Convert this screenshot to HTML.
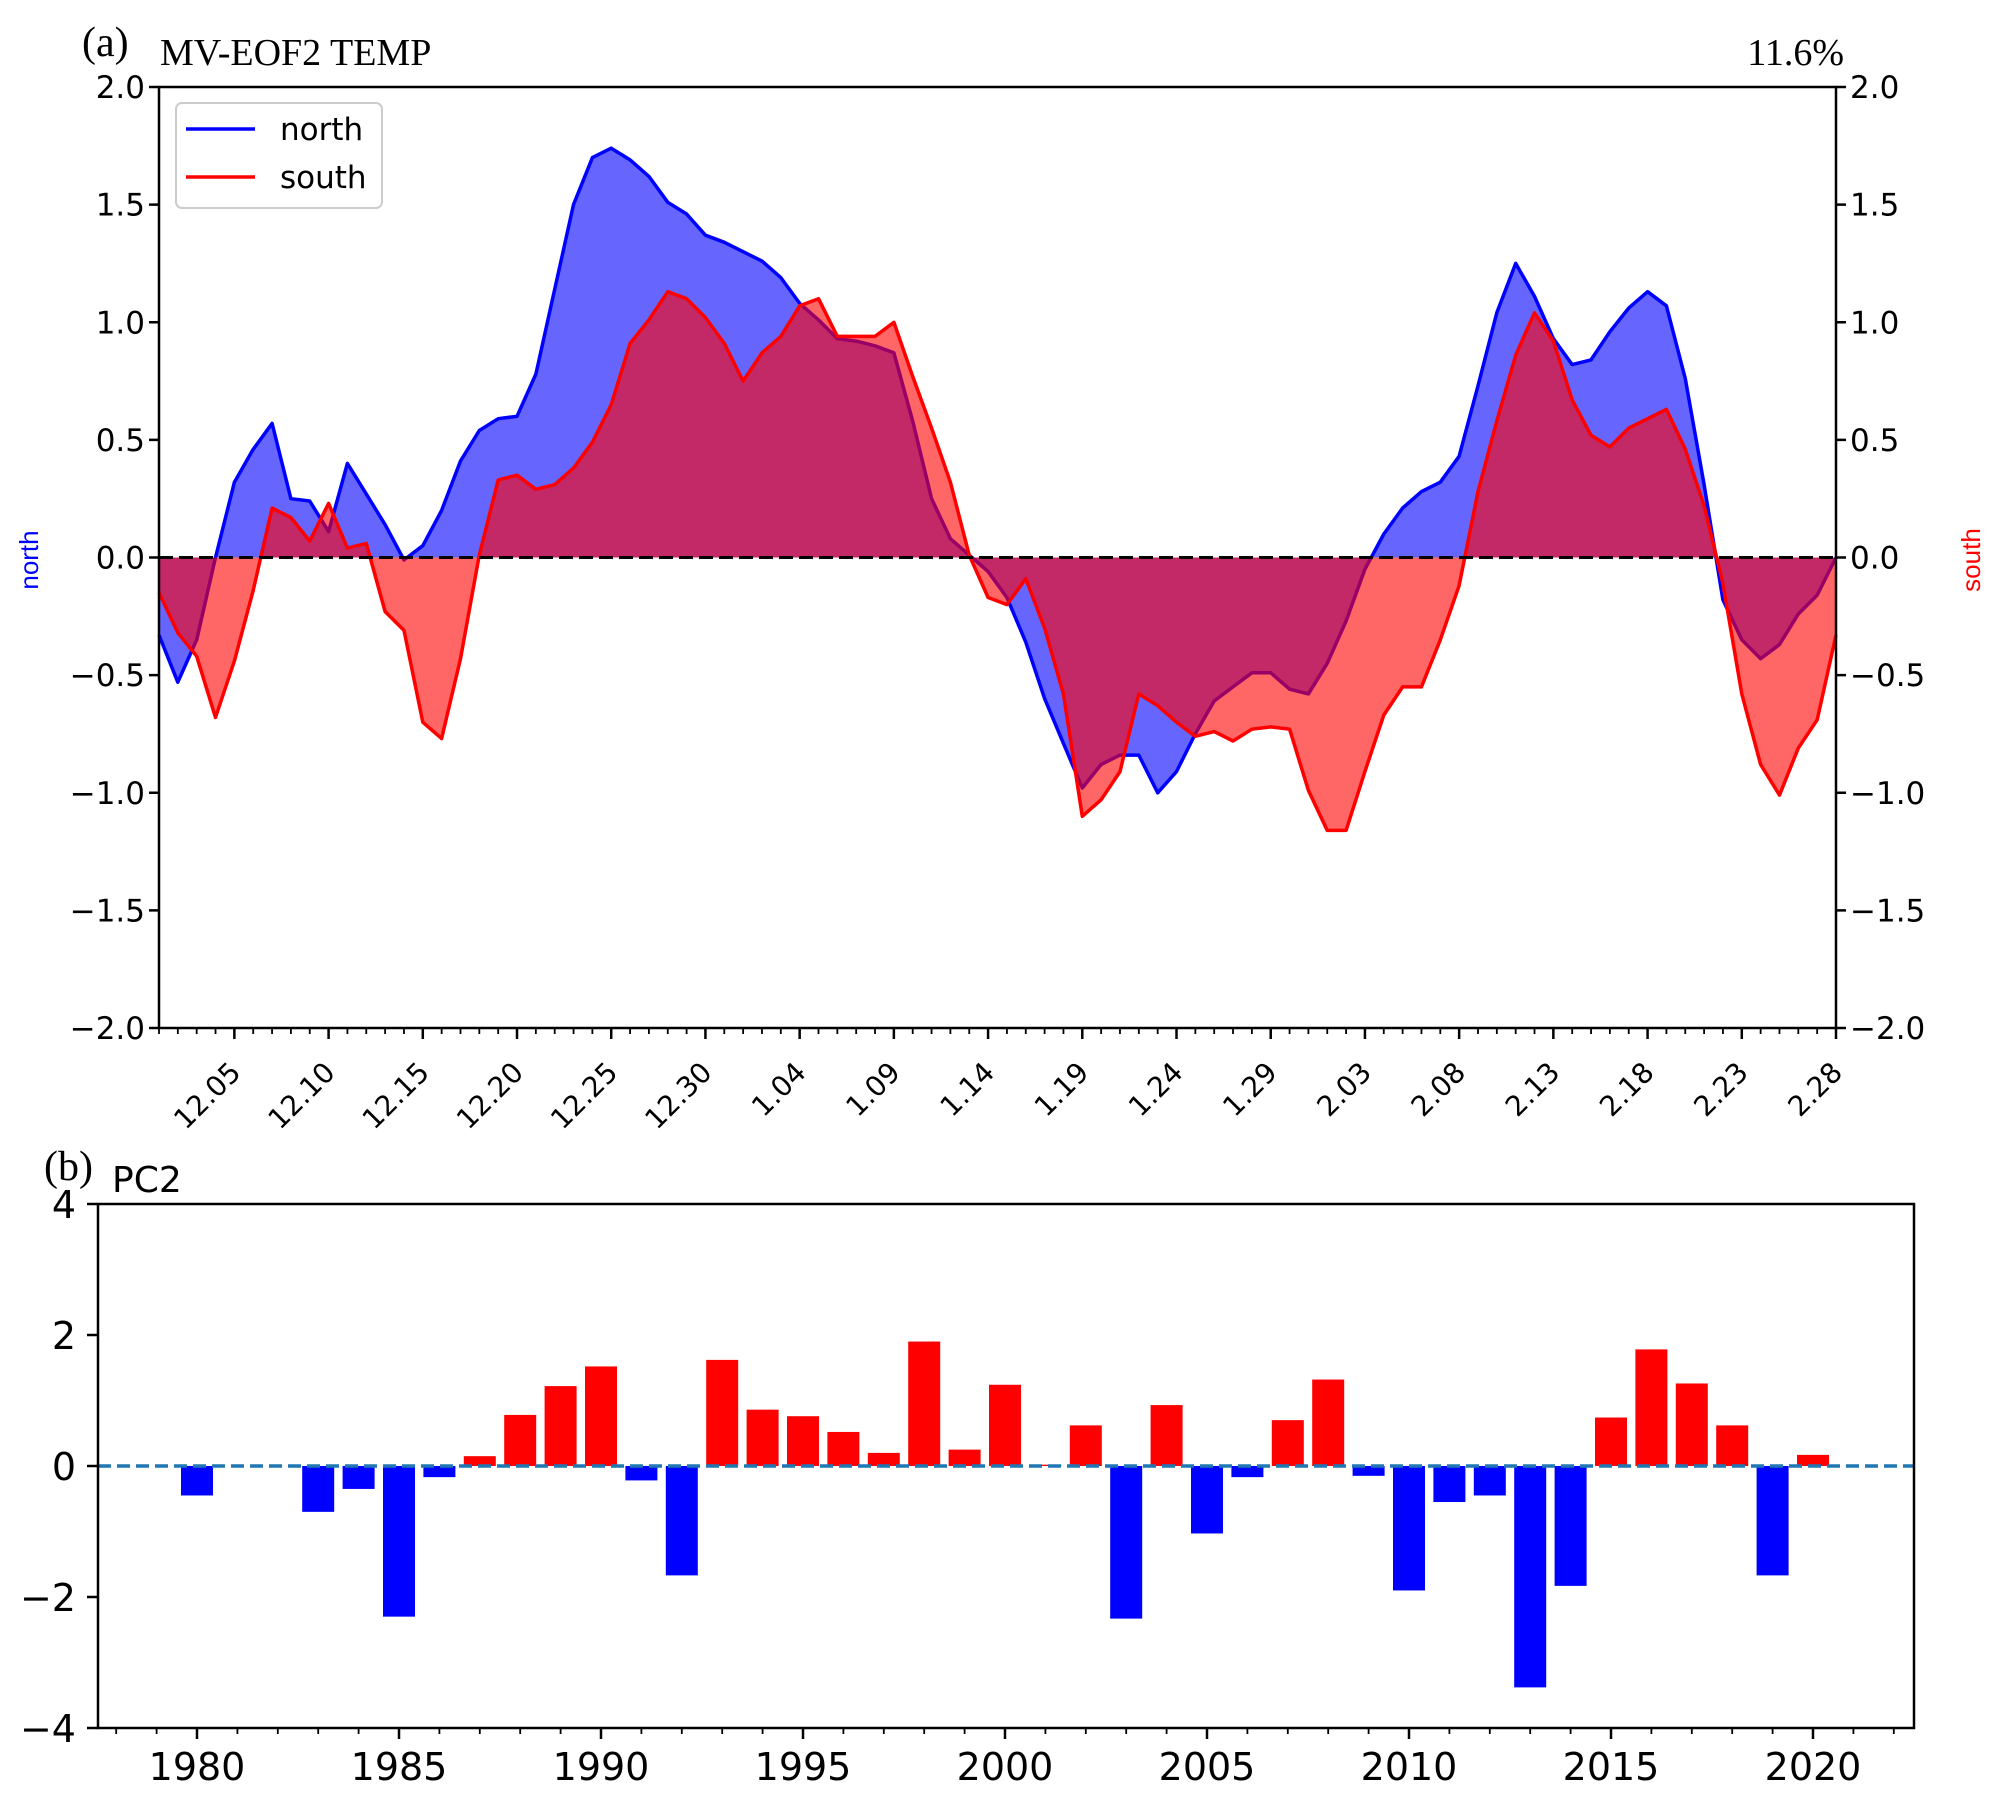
<!DOCTYPE html>
<html><head><meta charset="utf-8"><style>
body{margin:0;background:#fff}
svg{display:block;font-family:"DejaVu Sans","Liberation Sans",sans-serif}
</style></head><body>
<svg id="c" width="2000" height="1812" viewBox="0 0 2000 1812"></svg>
<script>
const north=[-0.33,-0.53,-0.35,0.0,0.32,0.46,0.57,0.25,0.24,0.11,0.40,0.27,0.14,-0.01,0.05,0.20,0.41,0.54,0.59,0.60,0.78,1.14,1.50,1.70,1.74,1.69,1.62,1.51,1.46,1.37,1.34,1.30,1.26,1.19,1.08,1.01,0.93,0.92,0.90,0.87,0.58,0.25,0.08,0.01,-0.06,-0.17,-0.36,-0.6,-0.79,-0.98,-0.88,-0.84,-0.84,-1.0,-0.91,-0.75,-0.61,-0.55,-0.49,-0.49,-0.56,-0.58,-0.45,-0.27,-0.05,0.10,0.21,0.28,0.32,0.43,0.73,1.04,1.25,1.11,0.93,0.82,0.84,0.96,1.06,1.13,1.07,0.76,0.31,-0.18,-0.35,-0.43,-0.37,-0.24,-0.16,0.0];
const south=[-0.15,-0.32,-0.42,-0.68,-0.44,-0.14,0.21,0.17,0.07,0.23,0.04,0.06,-0.23,-0.31,-0.70,-0.77,-0.43,0.01,0.33,0.35,0.29,0.31,0.38,0.49,0.65,0.91,1.01,1.13,1.10,1.02,0.91,0.75,0.87,0.94,1.07,1.10,0.94,0.94,0.94,1.00,0.77,0.55,0.32,0.01,-0.17,-0.2,-0.09,-0.3,-0.58,-1.1,-1.03,-0.91,-0.58,-0.63,-0.7,-0.76,-0.74,-0.78,-0.73,-0.72,-0.73,-0.99,-1.16,-1.16,-0.91,-0.67,-0.55,-0.55,-0.35,-0.12,0.28,0.58,0.86,1.04,0.92,0.67,0.52,0.47,0.55,0.59,0.63,0.46,0.22,-0.11,-0.58,-0.88,-1.01,-0.81,-0.69,-0.33];
const dayTicks=["12.05","12.10","12.15","12.20","12.25","12.30","1.04","1.09","1.14","1.19","1.24","1.29","2.03","2.08","2.13","2.18","2.23","2.28"];
const topYTicks=[-2.0,-1.5,-1.0,-0.5,0.0,0.5,1.0,1.5,2.0];
const years=[1979,1980,1981,1982,1983,1984,1985,1986,1987,1988,1989,1990,1991,1992,1993,1994,1995,1996,1997,1998,1999,2000,2001,2002,2003,2004,2005,2006,2007,2008,2009,2010,2011,2012,2013,2014,2015,2016,2017,2018,2019,2020];
const pc2=[0,-0.45,0,0,-0.7,-0.35,-2.3,-0.17,0.15,0.78,1.22,1.52,-0.22,-1.67,1.62,0.86,0.76,0.52,0.2,1.9,0.25,1.24,0.02,0.62,-2.33,0.93,-1.03,-0.17,0.7,1.32,-0.15,-1.9,-0.55,-0.45,-3.38,-1.83,0.74,1.78,1.26,0.62,-1.67,0.17];
const yearTicks=[1980,1985,1990,1995,2000,2005,2010,2015,2020];
const botYTicks=[-4,-2,0,2,4];

const NS="http://www.w3.org/2000/svg";
const svg=document.getElementById('c');
function mk(tag,attrs,parent){const e=document.createElementNS(NS,tag);for(const k in attrs)e.setAttribute(k,attrs[k]);(parent||svg).appendChild(e);return e;}
function txt(s,attrs){const e=mk('text',attrs);e.textContent=s;return e;}
const fmt=v=>(v<0?'\u2212':'')+Math.abs(v).toFixed(1);

// ---- top panel
const L=159,R=1836,T=87,B=1028;
const xd=i=>L+(R-L)*i/89;
const yv=v=>T+(B-T)*(2-v)/4;
function area(arr,fill,stroke,name){
  let d='M'+xd(0)+','+yv(0);
  arr.forEach((v,i)=>d+='L'+xd(i).toFixed(1)+','+yv(v).toFixed(1));
  d+='L'+xd(arr.length-1)+','+yv(0)+'Z';
  const a=mk('path',{d:d,fill:fill,'fill-opacity':0.6,stroke:'none'});
  
  
  const l=mk('polyline',{points:arr.map((v,i)=>xd(i).toFixed(1)+','+yv(v).toFixed(1)).join(' '),fill:'none',stroke:stroke,'stroke-width':3.5,'stroke-linejoin':'round'});
  
  
}
area(north,'#0000ff','#0000ff','north');
area(south,'#ff0000','#ff0000','south');
const zl=mk('line',{x1:L,x2:R,y1:yv(0),y2:yv(0),stroke:'#000','stroke-width':3,'stroke-dasharray':'14,6'});


const fr=mk('rect',{x:L,y:T,width:R-L,height:B-T,fill:'none',stroke:'#000','stroke-width':2.5});


topYTicks.forEach(v=>{
  const y=yv(v);
  mk('line',{x1:L-10,x2:L,y1:y,y2:y,stroke:'#000','stroke-width':2.5});
  mk('line',{x1:R,x2:R+10,y1:y,y2:y,stroke:'#000','stroke-width':2.5});
  const a=txt(fmt(v),{x:L-14,y:y+11,'text-anchor':'end','font-size':31});
  
  
  const b=txt(fmt(v),{x:R+14,y:y+11,'font-size':31});
  
  
});
for(let i=0;i<90;i++){
  const major=(i%5===4);
  mk('line',{x1:xd(i),x2:xd(i),y1:B,y2:B+(major?11:6),stroke:'#000','stroke-width':major?2.5:1.8});
}
dayTicks.forEach((s,k)=>{
  const x=xd(4+5*k),y=B+20;
  const t=txt(s,{x:x+8,y:y+26,'text-anchor':'end','font-size':28,transform:`rotate(-45 ${x+8} ${y+26})`});
  
  
});
let t;
t=txt('(a)',{x:82,y:56,'font-size':42,'font-family':'Liberation Serif,serif'});

t=txt('MV-EOF2 TEMP',{x:160,y:65,'font-size':38,'font-family':'Liberation Serif,serif'});

t=txt('11.6%',{x:1844,y:65,'text-anchor':'end','font-size':38,'font-family':'Liberation Serif,serif'});

t=txt('north',{x:38,y:560,'text-anchor':'middle','font-size':26,fill:'#0000ff','font-family':'Liberation Sans,sans-serif',transform:'rotate(-90 38 560)'});

t=txt('south',{x:1980,y:560,'text-anchor':'middle','font-size':26,fill:'#ff0000','font-family':'Liberation Sans,sans-serif',transform:'rotate(-90 1980 560)'});

// legend
const lg=mk('rect',{x:176,y:103,width:206,height:105,rx:6,fill:'#fff','fill-opacity':0.8,stroke:'#ccc','stroke-width':2});

[['north','#0000ff',129],['south','#ff0000',177]].forEach(([n,c,y])=>{
  mk('line',{x1:186,x2:255,y1:y,y2:y,stroke:c,'stroke-width':3.5});
  const e=txt(n,{x:280,y:y+11,'font-size':31});
  
});

// ---- bottom panel
const bL=98,bR=1914,bT=1204,bB=1728;
const xy=yr=>197+(yr-1980)*40.4;
const yb=v=>bT+(bB-bT)*(4-v)/8;
const bw=32;
years.forEach((yr,i)=>{
  const v=pc2[i];if(v===0)return;
  const r=mk('rect',{x:xy(yr)-bw/2,y:Math.min(yb(v),yb(0)),width:bw,height:Math.abs(yb(v)-yb(0)),fill:v>0?'#ff0000':'#0000ff'});
  
  
});
const bz=mk('line',{x1:bL,x2:bR,y1:yb(0),y2:yb(0),stroke:'#1f77b4','stroke-width':3.5,'stroke-dasharray':'13,6'});

const bf=mk('rect',{x:bL,y:bT,width:bR-bL,height:bB-bT,fill:'none',stroke:'#000','stroke-width':2.5});

botYTicks.forEach(v=>{
  const y=yb(v);
  mk('line',{x1:bL-11,x2:bL,y1:y,y2:y,stroke:'#000','stroke-width':2.5});
  const e=txt(v<0?'\u2212'+Math.abs(v):String(v),{x:bL-22,y:y+14,'text-anchor':'end','font-size':38});
  
});
for(let yr=1978;yr<=2022;yr++){
  const major=yr%5===0;
  mk('line',{x1:xy(yr),x2:xy(yr),y1:bB,y2:bB+(major?11:6),stroke:'#000','stroke-width':major?2.5:1.8});
}
yearTicks.forEach(yr=>{
  const e=txt(String(yr),{x:xy(yr),y:1780,'text-anchor':'middle','font-size':38});
  
});
t=txt('(b)',{x:44,y:1180,'font-size':42,'font-family':'Liberation Serif,serif'});

t=txt('PC2',{x:112,y:1192,'font-size':36});

</script>
</body></html>
